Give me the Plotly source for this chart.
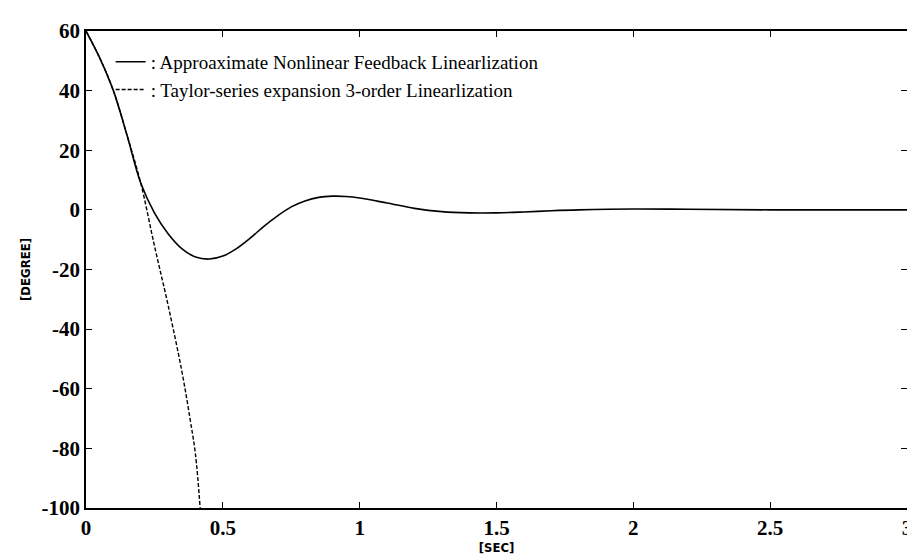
import plotly.graph_objects as go

# time axis [sec] and response [degree]
t_nfl = [0, 0.05, 0.1, 0.15, 0.2, 0.25, 0.3, 0.35, 0.4, 0.45, 0.5, 0.55, 0.6,
         0.65, 0.7, 0.75, 0.8, 0.85, 0.9, 0.95, 1.0, 1.1, 1.2, 1.3, 1.4, 1.5,
         1.6, 1.7, 1.8, 2.0, 2.2, 2.5, 3.0]
y_nfl = [60, 51, 40, 25, 9, -1, -8, -13, -15.8, -16.5, -15.5, -13, -9.5,
         -5.5, -2, 1, 3, 4.2, 4.6, 4.5, 4, 2.3, 0.5, -0.6, -1, -1,
         -0.7, -0.3, 0, 0.3, 0.2, 0, 0]

t_taylor = [0, 0.05, 0.1, 0.15, 0.2, 0.25, 0.3, 0.35, 0.38, 0.4, 0.417]
y_taylor = [60, 51, 40, 25, 9, -12, -32, -54, -70, -82, -100]

x_ticks = [0, 0.5, 1, 1.5, 2, 2.5, 3]
x_labels = ["0", "0.5", "1", "1.5", "2", "2.5", "3"]
y_ticks = [60, 40, 20, 0, -20, -40, -60, -80, -100]
y_labels = ["60", "40", "20", "0", "-20", "-40", "-60", "-80", "-100"]

serif = "Liberation Serif, Times New Roman, serif"
narrow = "Liberation Sans Narrow, DejaVu Sans Condensed, Arial Narrow, sans-serif"

fig = go.Figure()
fig.add_trace(go.Scatter(
    x=t_nfl, y=y_nfl, mode="lines", line_shape="spline",
    line=dict(color="black", width=1.6),
    name=": Approaximate Nonlinear Feedback Linearlization",
))
fig.add_trace(go.Scatter(
    x=t_taylor, y=y_taylor, mode="lines", line_shape="spline",
    line=dict(color="black", width=1.4, dash="4px,2px"),
    name=": Taylor-series expansion 3-order Linearlization",
))

axis_common = dict(
    showline=True, linecolor="black", linewidth=1.5, mirror="ticks",
    ticks="inside", ticklen=6, tickcolor="black", showgrid=False,
    zeroline=False, ticklabeloverflow="allow",
    tickfont=dict(family=serif, size=21, color="black", weight="bold"),
)
title_font = dict(family=narrow, size=13, color="black", weight="bold")

fig.update_xaxes(
    range=[0, 3], tickvals=x_ticks, ticktext=x_labels,
    title=dict(text="[SEC]", font=title_font, standoff=0),
    **axis_common,
)
fig.update_yaxes(
    range=[-100, 60], tickvals=y_ticks, ticktext=y_labels,
    title=dict(text="[DEGREE]", font=title_font, standoff=8),
    **axis_common,
)

fig.update_layout(
    width=915, height=556,
    margin=dict(l=78, r=11, t=16, b=56),
    paper_bgcolor="white", plot_bgcolor="white",
    showlegend=True,
    legend=dict(
        x=0.03, y=0.975, xanchor="left", yanchor="top",
        bgcolor="rgba(0,0,0,0)", borderwidth=0,
        font=dict(family=serif, size=19, color="black"),
        itemwidth=30, tracegroupgap=0,
    ),
)

fig.write_html("out.html")
